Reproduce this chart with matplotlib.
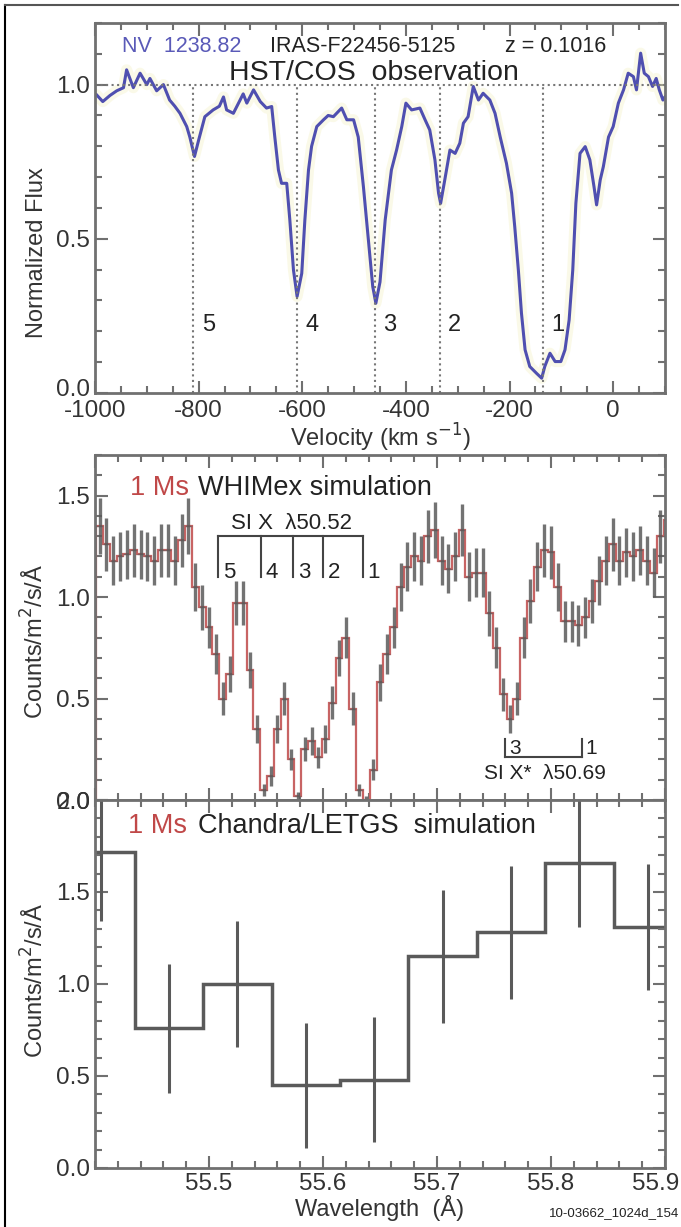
import numpy as np
import matplotlib
matplotlib.use('Agg')
import matplotlib.pyplot as plt
import matplotlib.transforms as mtrans
from matplotlib.ticker import MultipleLocator, FormatStrFormatter
from matplotlib.lines import Line2D

plt.rcParams['font.family'] = ['Liberation Sans', 'DejaVu Sans']
plt.rcParams['axes.unicode_minus'] = False

# ---- HST/COS NV 1238.82 profile --------------------------------------------
velocity = [-997, -985, -971, -958, -945, -939, -926, -913, -900, -894, -881, -868,
            -856, -846, -836, -823, -817, -808, -800, -788, -772, -760, -752, -746,
            -733, -720, -714, -707, -701, -694, -681, -669, -659, -653, -646, -640,
            -630, -624, -617, -610, -601, -595, -588, -582, -572, -559, -550, -540,
            -524, -514, -501, -492, -482, -473, -464, -458, -450, -440, -428, -418,
            -408, -400, -389, -373, -363, -354, -344, -337, -333, -325, -315, -305,
            -296, -289, -280, -270, -260, -251, -238, -228, -218, -206, -196, -190,
            -183, -177, -170, -161, -148, -138, -132, -122, -112, -101, -93, -85,
            -78, -72, -64, -54, -45, -37, -32, -25, -19, -9, 0, 10, 20, 29, 39, 45,
            53, 60, 68, 76, 83, 89, 96, 100]
flux = [0.967, 0.945, 0.965, 0.98, 0.99, 1.048, 0.99, 1.037, 1.0, 1.02, 0.98, 1.0,
        0.95, 0.93, 0.907, 0.864, 0.83, 0.767, 0.82, 0.896, 0.918, 0.93, 0.96, 0.918,
        0.907, 0.95, 0.97, 0.94, 0.96, 0.983, 0.945, 0.924, 0.929, 0.83, 0.723, 0.68,
        0.68, 0.561, 0.399, 0.313, 0.388, 0.561, 0.723, 0.80, 0.864, 0.886, 0.90, 0.896,
        0.924, 0.886, 0.886, 0.83, 0.669, 0.507, 0.345, 0.291, 0.36, 0.561, 0.723, 0.788,
        0.864, 0.94, 0.918, 0.924, 0.886, 0.853, 0.756, 0.648, 0.615, 0.691, 0.788, 0.777,
        0.81, 0.875, 0.896, 0.994, 0.95, 0.972, 0.95, 0.907, 0.83, 0.745, 0.648, 0.54,
        0.399, 0.259, 0.14, 0.086, 0.064, 0.048, 0.086, 0.129, 0.102, 0.102, 0.14, 0.237,
        0.399, 0.615, 0.777, 0.799, 0.756, 0.669, 0.61, 0.691, 0.734, 0.83, 0.864, 0.94,
        0.983, 1.037, 1.026, 0.983, 1.102, 1.037, 1.026, 0.994, 1.02, 0.983, 0.95, 0.96]
comp_vel = [-810, -610, -460, -335, -135]
comp_names = ['5', '4', '3', '2', '1']

# ---- WHIMex 1 Ms simulation (Si X) -----------------------------------------
whim_start, whim_bin = 55.404, 0.006
whim_counts = [1.35, 1.26, 1.18, 1.20, 1.21, 1.23, 1.21, 1.20, 1.18, 1.23, 1.23, 1.18,
               1.28, 1.35, 1.05, 0.95, 0.85, 0.72, 0.50, 0.62, 0.97, 0.97, 0.64, 0.35,
               0.05, 0.12, 0.35, 0.50, 0.20, 0.02, 0.25, 0.29, 0.21, 0.30, 0.48, 0.70,
               0.80, 0.45, 0.05, 0.00, 0.15, 0.58, 0.72, 0.85, 1.05, 1.15, 1.20, 1.18,
               1.30, 1.33, 1.18, 1.14, 1.20, 1.33, 1.10, 1.12, 1.12, 0.92, 0.75, 0.52,
               0.40, 0.50, 0.80, 0.98, 1.15, 1.23, 1.22, 1.05, 0.88, 0.88, 0.86, 0.90,
               0.98, 1.08, 1.18, 1.26, 1.18, 1.22, 1.20, 1.23, 1.18, 1.12, 1.30, 1.38]
whim_err = [0.14, 0.13, 0.12, 0.12, 0.12, 0.13, 0.12, 0.12, 0.12, 0.13, 0.13, 0.12, 0.13, 0.14,
            0.12, 0.11, 0.10, 0.10, 0.08, 0.09, 0.11, 0.11, 0.09, 0.07, 0.03, 0.05, 0.07, 0.08,
            0.05, 0.02, 0.06, 0.07, 0.05, 0.07, 0.08, 0.09, 0.10, 0.08, 0.03, 0.02, 0.05, 0.09,
            0.10, 0.10, 0.12, 0.12, 0.12, 0.12, 0.13, 0.14, 0.12, 0.12, 0.12, 0.13, 0.12, 0.12,
            0.12, 0.11, 0.10, 0.08, 0.07, 0.08, 0.10, 0.11, 0.12, 0.13, 0.13, 0.12, 0.10, 0.10,
            0.10, 0.10, 0.11, 0.12, 0.12, 0.13, 0.12, 0.12, 0.12, 0.12, 0.12, 0.12, 0.13, 0.14]
six_wave = [55.508, 55.546, 55.574, 55.600, 55.635]
sixs_wave = [55.760, 55.827]
sixs_names = ['3', '1']

# ---- Chandra/LETGS 1 Ms simulation -----------------------------------------
letg_wave = [55.405, 55.465, 55.525, 55.585, 55.645, 55.705, 55.765, 55.825, 55.885]
letg_counts = [1.72, 0.76, 1.00, 0.45, 0.48, 1.15, 1.28, 1.66, 1.31]
letg_err = [0.38, 0.35, 0.34, 0.34, 0.34, 0.36, 0.36, 0.35, 0.34]

SPINE = '#707070'
TXT = '#333333'
BLUE = '#4f4fb0'
RED = '#c86464'
GREY = '#5a5a5a'
TICKFS = 17.5
LABFS = 17
YLAB_X = -0.082

fig = plt.figure(figsize=(6.81, 12.27), dpi=100)


def style(ax):
    for s in ax.spines.values():
        s.set_color(SPINE)
        s.set_linewidth(2)
    ax.tick_params(which='both', direction='in', top=True, right=True,
                   color=SPINE, labelcolor=TXT, labelsize=TICKFS, width=1.5)
    ax.tick_params(which='major', length=9)
    ax.tick_params(which='minor', length=5)


def nudge(label, dx, dy):
    # shift a tick label by (dx, dy) points
    label.set_transform(label.get_transform() +
                        mtrans.ScaledTranslation(dx / 72, dy / 72, fig.dpi_scale_trans))


# top panel: NV absorption
ax1 = fig.add_axes([0.1395, 0.6797, 0.837, 0.3016])
ax1.plot(velocity, flux, color='#f2efbf', lw=8, alpha=0.35, solid_capstyle='round')
ax1.plot(velocity, flux, color=BLUE, lw=2.2)
ax1.axhline(1.0, color='#777777', ls=':', lw=1.5)
for v, n in zip(comp_vel, comp_names):
    ax1.plot([v, v], [0, 1.0], color='#777777', ls=':', lw=1.5)
    ax1.text(v + 16, 0.22, n, fontsize=17, color='#222222', va='center', ha='left')
ax1.set_xlim(-1000, 100)
ax1.set_ylim(0, 1.2)
ax1.xaxis.set_major_locator(MultipleLocator(200))
ax1.xaxis.set_minor_locator(MultipleLocator(50))
ax1.yaxis.set_major_locator(MultipleLocator(0.5))
ax1.yaxis.set_minor_locator(MultipleLocator(0.1))
ax1.yaxis.set_major_formatter(FormatStrFormatter('%.1f'))
style(ax1)
ax1.tick_params(axis='x', pad=5)
ax1.set_yticks([0.0, 0.5, 1.0])
nudge(ax1.get_yticklabels()[0], 0, 4)
nudge(ax1.get_xticklabels()[0], 5, 0)
ax1.set_xlabel('Velocity (km s$^{-1}$)', fontsize=LABFS, color=TXT, labelpad=0)
ax1.set_ylabel('Normalized Flux', fontsize=LABFS, color=TXT)
ax1.yaxis.set_label_coords(YLAB_X, 0.38)
ax1.text(0.047, 0.935, 'NV  1238.82', transform=ax1.transAxes, color='#5a5ab8',
         fontsize=15.5, va='center')
ax1.text(0.307, 0.935, 'IRAS-F22456-5125', transform=ax1.transAxes, color='#222222',
         fontsize=15.5, va='center')
ax1.text(0.72, 0.935, 'z = 0.1016', transform=ax1.transAxes, color='#222222',
         fontsize=15.5, va='center')
ax1.text(0.49, 0.866, 'HST/COS  observation', transform=ax1.transAxes, color='#222222',
         fontsize=20.5, va='center', ha='center')

# middle panel: WHIMex simulated spectrum
ax2 = fig.add_axes([0.1395, 0.348, 0.837, 0.2812])
wc = whim_start + whim_bin * np.arange(len(whim_counts))
edges = np.append(wc - whim_bin / 2, wc[-1] + whim_bin / 2)
ax2.stairs(whim_counts, edges, color=RED, lw=1.6, zorder=2)
ax2.vlines(wc, np.array(whim_counts) - np.array(whim_err),
           np.array(whim_counts) + np.array(whim_err), color=GREY, lw=2.4, alpha=0.85, zorder=3)
ax2.hlines(whim_counts, edges[:-1], edges[1:], color=GREY, lw=1, alpha=0.6, zorder=3)
# Si X component bracket
ax2.plot([six_wave[0], six_wave[-1]], [1.30, 1.30], color='#444444', lw=1.5)
for w, n in zip(six_wave, comp_names):
    ax2.plot([w, w], [1.10, 1.30], color='#444444', lw=1.5)
    ax2.text(w + 0.004, 1.12, n, fontsize=16, color='#222222', va='center', ha='left')
ax2.text(55.572, 1.36, 'SI X  \u03bb50.52', fontsize=16, color='#222222',
         ha='center', va='center')
# Si X* bracket
ax2.plot([sixs_wave[0], sixs_wave[-1]], [0.21, 0.21], color='#444444', lw=1.5)
for w, n in zip(sixs_wave, sixs_names):
    ax2.plot([w, w], [0.21, 0.30], color='#444444', lw=1.5)
    ax2.text(w + 0.003, 0.255, n, fontsize=15, color='#222222', va='center', ha='left')
ax2.text(55.795, 0.13, 'SI X*  \u03bb50.69', fontsize=15, color='#222222',
         ha='center', va='center')
ax2.set_xlim(55.4, 55.9)
ax2.set_ylim(0, 1.7)
ax2.xaxis.set_major_locator(MultipleLocator(0.1))
ax2.xaxis.set_minor_locator(MultipleLocator(0.02))
ax2.yaxis.set_major_locator(MultipleLocator(0.5))
ax2.yaxis.set_minor_locator(MultipleLocator(0.1))
ax2.yaxis.set_major_formatter(FormatStrFormatter('%.1f'))
style(ax2)
ax2.tick_params(labelbottom=False)
ax2.set_ylabel('Counts/m$^2$/s/\u00c5', fontsize=LABFS, color=TXT)
ax2.yaxis.set_label_coords(YLAB_X, 0.46)
ax2.text(0.061, 0.905, '1 Ms', transform=ax2.transAxes, color='#c04848',
         fontsize=19.5, va='center')
ax2.text(0.18, 0.905, 'WHIMex simulation', transform=ax2.transAxes, color='#222222',
         fontsize=19.5, va='center')

# bottom panel: Chandra LETGS simulated spectrum
ax3 = fig.add_axes([0.1395, 0.0481, 0.837, 0.2999])
lw_ = letg_wave[1] - letg_wave[0]
ledges = np.append(np.array(letg_wave) - lw_ / 2, letg_wave[-1] + lw_ / 2)
ax3.stairs(letg_counts, ledges, color=GREY, lw=2.5)
ax3.vlines(letg_wave, np.array(letg_counts) - np.array(letg_err),
           np.array(letg_counts) + np.array(letg_err), color=GREY, lw=2.2)
ax3.set_xlim(55.4, 55.9)
ax3.set_ylim(0, 2.0)
ax3.set_xticks([55.5, 55.6, 55.7, 55.8, 55.9])
ax3.xaxis.set_minor_locator(MultipleLocator(0.02))
ax3.yaxis.set_major_locator(MultipleLocator(0.5))
ax3.yaxis.set_minor_locator(MultipleLocator(0.1))
ax3.yaxis.set_major_formatter(FormatStrFormatter('%.1f'))
style(ax3)
# keep the last wavelength label inside the figure
nudge(ax3.get_xticklabels()[-1], -7, 0)
ax3.set_xlabel('Wavelength  (\u00c5)', fontsize=LABFS, color=TXT, labelpad=0)
ax3.set_ylabel('Counts/m$^2$/s/\u00c5', fontsize=LABFS, color=TXT)
ax3.yaxis.set_label_coords(YLAB_X, 0.51)
ax3.text(0.058, 0.93, '1 Ms', transform=ax3.transAxes, color='#c04848',
         fontsize=19.5, va='center')
ax3.text(0.18, 0.93, 'Chandra/LETGS  simulation', transform=ax3.transAxes,
         color='#222222', fontsize=19.5, va='center')
fig.text(0.997, 0.011, '10-03662_1024d_154', fontsize=9.5, color='#222222',
         ha='right', va='center')

# frame around the figure
fig.add_artist(Line2D([0.007, 0.007], [0, 0.996], color='black', lw=1.5))
fig.add_artist(Line2D([0.007, 0.996], [0.996, 0.996], color='#555555', lw=1.5))

fig.savefig('out.png', dpi=100)
